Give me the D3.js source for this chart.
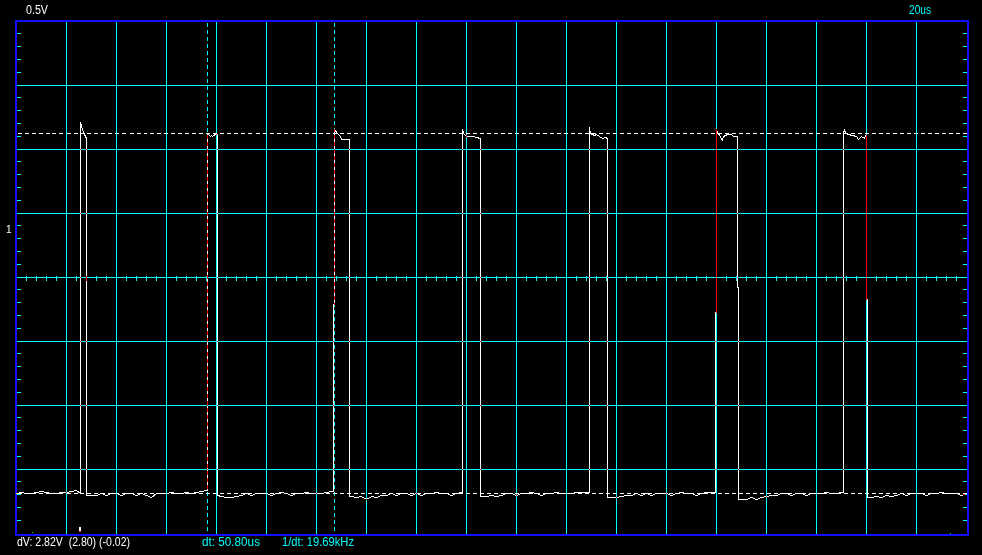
<!DOCTYPE html>
<html>
<head>
<meta charset="utf-8">
<script src="https://cdn.jsdelivr.net/npm/d3@7"></script>
<style>
  html, body { margin: 0; padding: 0; background: #000; }
  svg { display: block; }
  text { font-family: "Liberation Sans", Arial, sans-serif; white-space: pre; }
</style>
</head>
<body>
<script>
// ---------------- DATA ----------------
// time base: 20 us / div, vertical: 0.5 V / div
const timeDomain = [0, 380];          // us across the screen (19 divisions)
const voltDomain = [-0.325, 3.675];   // V across the screen (8 divisions)
const timeGrid = [20, 40, 60, 80, 100, 120, 140, 160, 180, 200, 220, 240, 260, 280, 300, 320, 340, 360];
const voltGrid = [0.175, 0.675, 1.175, 1.675, 2.175, 2.675, 3.175];
const centerVolt = 1.675;

// baseline samples every 2 us (V)
const baseStep = 2;
const baseline = [
  -0.02,-0.01,-0.02,-0.02,-0.01, 0.00,-0.01,-0.02,-0.02,-0.01,
  -0.01, 0.00, 0.01,-0.02,-0.02,-0.03,-0.03,-0.02,-0.03,-0.02,
  -0.02,-0.03,-0.02,-0.02,-0.03,-0.02,-0.03,-0.05,-0.02,-0.02,
  -0.02,-0.01,-0.02,-0.02,-0.01,-0.02,-0.01, 0.00, 0.01, 0.01,
  -0.03,-0.04,-0.05,-0.05,-0.04,-0.03,-0.02,-0.03,-0.02,-0.02,
  -0.02,-0.03,-0.02,-0.01,-0.02,-0.03,-0.02,-0.02,-0.01,-0.02,
  -0.02,-0.02,-0.01, 0.00, 0.00,-0.04,-0.04,-0.04,-0.05,-0.04,
  -0.06,-0.04,-0.05,-0.03,-0.03,-0.02,-0.03,-0.02,-0.02,-0.03,
  -0.02,-0.03,-0.02,-0.02,-0.01,-0.02,-0.02,-0.03,-0.02,-0.01,
  -0.01,-0.01,-0.01,-0.04,-0.04,-0.03,-0.04,-0.03,-0.02,-0.02,
  -0.03,-0.02,-0.02,-0.01,-0.02,-0.03,-0.02,-0.02,-0.01,-0.02,
  -0.02,-0.02,-0.01,-0.01,-0.01,-0.05,-0.05,-0.05,-0.05,-0.05,
  -0.05,-0.04,-0.03,-0.03,-0.02,-0.03,-0.02,-0.03,-0.02,-0.02,
  -0.02,-0.03,-0.02,-0.01,-0.02,-0.02,-0.03,-0.02,-0.01,-0.01,
  -0.06,-0.06,-0.06,-0.06,-0.06,-0.06,-0.06,-0.05,-0.06,-0.05,
  -0.04,-0.03,-0.03,-0.02,-0.02,-0.03,-0.02,-0.02,-0.03,-0.02,
  -0.02,-0.02,-0.01,-0.02,-0.02,-0.01,-0.05,-0.05,-0.05,-0.05,
  -0.05,-0.05,-0.04,-0.05,-0.03,-0.04,-0.03,-0.02,-0.03,-0.02,
  -0.02,-0.02,-0.03,-0.02,-0.02,-0.01,-0.02,-0.02,-0.02,-0.03,
  -0.02
];

// pulse vertices [t (us), v (V)]
const pulse1 = [[25.6,-0.02],[25.6,2.88],[26.0,2.85],[26.4,2.83],[27.2,2.79],[27.6,2.77],[28.0,2.76],[28.0,-0.03]];
const pulse2 = [[76.4,0.01],[76.4,2.80],[77.2,2.78],[77.6,2.77],[78.0,2.78],[78.4,2.77],[78.8,2.78],[79.6,2.79],[80.4,2.79],[80.4,-0.03]];
const pulse3 = [[126.8,0.00],[126.8,1.46],[127.2,1.46],[127.2,2.83],[128.4,2.80],[128.8,2.785],[129.6,2.77],[130.0,2.75],[133.2,2.75],[133.2,-0.04]];
const pulse4 = [[178.4,-0.01],[178.4,2.83],[178.8,2.80],[179.6,2.78],[180.4,2.77],[181.6,2.775],[182.8,2.77],[184.0,2.765],[185.6,2.76],[185.6,-0.04]];
const pulse5 = [[229.2,-0.01],[229.2,2.84],[229.6,2.80],[230.4,2.79],[231.2,2.78],[232.0,2.785],[233.2,2.77],[234.4,2.76],[235.6,2.765],[236.4,2.76],[236.4,-0.05]];
const pulse6 = [[279.6,-0.01],[279.6,1.40],[280.0,1.40],[280.0,2.825],[280.4,2.80],[281.2,2.785],[282.0,2.75],[282.4,2.74],[282.8,2.77],[283.6,2.78],[284.4,2.79],[285.2,2.785],[286.0,2.785],[286.8,2.77],[288.4,2.77],[288.4,1.59],[288.8,1.59],[288.8,-0.06]];
const pulse7 = [[330.8,-0.01],[330.8,2.80],[331.2,2.83],[331.6,2.80],[332.8,2.785],[334.4,2.777],[336.0,2.77],[336.8,2.75],[338.0,2.77],[339.2,2.76],[339.6,2.78],[340.0,2.78],[340.0,1.50],[340.4,1.50],[340.4,-0.05]];
const pulses = [pulse1, pulse2, pulse3, pulse4, pulse5, pulse6, pulse7];

// cursors
const timeCursors = [76.4, 127.2];    // dt = 50.80 us
const voltCursors = [2.80, -0.02];    // dV = 2.82 V
const triggerTime = 25.6;

// labels
const voltLabel = "0.5V";
const timeLabel = "20us";
const channelLabel = "1";
const dvLabel = "dV: 2.82V  (2.80) (-0.02)";
const dtLabel = "dt: 50.80us";
const freqLabel = "1/dt: 19.69kHz";

// ---------------- DRAW ----------------
const W = 982, H = 555;
const CYAN = "#00ffff", BLUE = "#1010ff";
const x = d3.scaleLinear().domain(timeDomain).range([16, 966]);
const y = d3.scaleLinear().domain(voltDomain).range([533, 21]);
const px = t => Math.floor(x(t) + 1e-6) + 0.5;
const py = v => Math.floor(y(v) + 1e-6) + 0.5;

const svg = d3.select("body").append("svg").attr("width", W).attr("height", H);
svg.append("rect").attr("width", W).attr("height", H).attr("fill", "#000");

const grid = svg.append("g").attr("shape-rendering", "crispEdges").attr("stroke", CYAN).attr("stroke-width", 1);
const yTop = py(voltDomain[1]), yBot = py(voltDomain[0]);
const xL = px(timeDomain[0]), xR = px(timeDomain[1]);

grid.selectAll("line.v").data(timeGrid).join("line").attr("class", "v")
  .attr("x1", d => px(d)).attr("x2", d => px(d)).attr("y1", yTop).attr("y2", yBot);
grid.selectAll("line.h").data(voltGrid).join("line").attr("class", "h")
  .attr("y1", d => py(d)).attr("y2", d => py(d)).attr("x1", xL).attr("x2", xR);

// minor ticks on the center line (every 1/5 div)
const minorT = d3.range(4, 380, 4);
grid.selectAll("line.mt").data(minorT).join("line").attr("class", "mt")
  .attr("x1", d => px(d)).attr("x2", d => px(d))
  .attr("y1", py(centerVolt) - 2).attr("y2", py(centerVolt) + 3);
// minor ticks on left / right borders
const minorV = d3.range(1, 40).map(i => voltDomain[0] + i * 0.1).filter(v => Math.abs(((v - voltDomain[0]) / 0.5) % 1) > 0.01 && Math.abs(((v - voltDomain[0]) / 0.5) % 1) < 0.99);
grid.selectAll("line.ml").data(minorV).join("line").attr("class", "ml")
  .attr("y1", d => py(d)).attr("y2", d => py(d)).attr("x1", xL).attr("x2", xL + 4);
grid.selectAll("line.mr").data(minorV).join("line").attr("class", "mr")
  .attr("y1", d => py(d)).attr("y2", d => py(d)).attr("x1", xR - 4).attr("x2", xR);

// time cursors (cyan dashed)
grid.selectAll("line.tc").data(timeCursors).join("line").attr("class", "tc")
  .attr("x1", d => px(d)).attr("x2", d => px(d)).attr("y1", yTop + 1).attr("y2", yBot)
  .attr("stroke-dasharray", "4,3");

// border
svg.append("rect").attr("x", xL - 1).attr("y", yTop - 1).attr("width", xR - xL + 2).attr("height", yBot - yTop + 2)
  .attr("fill", "none").attr("stroke", BLUE).attr("stroke-width", 2).attr("shape-rendering", "crispEdges");

// trace
const pts = [];
let bi = 0;
pulses.forEach(p => {
  const t0 = p[0][0], t1 = p[p.length - 1][0];
  while (bi < baseline.length && bi * baseStep < t0) { pts.push([bi * baseStep, baseline[bi]]); bi++; }
  p.forEach(q => pts.push(q));
  while (bi < baseline.length && bi * baseStep <= t1) bi++;
});
while (bi < baseline.length) { pts.push([bi * baseStep, baseline[bi]]); bi++; }

const line = d3.line().x(d => px(d[0])).y(d => py(d[1]));
svg.append("path").datum(pts).attr("d", line)
  .attr("fill", "none").attr("stroke", "#fff").attr("stroke-width", 1)
  .attr("shape-rendering", "crispEdges").style("mix-blend-mode", "difference");

// voltage cursors (white dashed)
svg.selectAll("line.vc").data(voltCursors).join("line").attr("class", "vc")
  .attr("y1", d => py(d)).attr("y2", d => py(d)).attr("x1", xL + 1).attr("x2", xR)
  .attr("stroke", "#fff").attr("stroke-dasharray", "4,3").attr("shape-rendering", "crispEdges");

// trigger marker & small markers
svg.append("rect").attr("x", Math.floor(x(triggerTime)) - 1).attr("y", 527).attr("width", 2).attr("height", 4).attr("fill", "#fff");
svg.append("rect").attr("x", Math.floor(x(triggerTime)) - 1).attr("y", 531).attr("width", 2).attr("height", 1).attr("fill", "#ff0000");
svg.append("rect").attr("x", 32).attr("y", 532).attr("width", 1).attr("height", 1).attr("fill", "#00ff00");
svg.append("rect").attr("x", 950).attr("y", 533).attr("width", 1).attr("height", 1).attr("fill", "#00ff00");

// texts
function label(txt, xx, yy, color, size, len) {
  const t = svg.append("text").attr("x", xx).attr("y", yy).attr("fill", color)
    .attr("xml:space", "preserve")
    .style("font-size", size + "px").text(txt);
  if (len) t.attr("textLength", len).attr("lengthAdjust", "spacingAndGlyphs");
  return t;
}
label(voltLabel, 26, 14, "#fff", 12, 22);
label(timeLabel, 909, 14, CYAN, 12, 22);
label(channelLabel, 6, 233, "#fff", 10);
label(dvLabel, 17, 546, "#fff", 12, 113);
label(dtLabel, 202, 546, CYAN, 12, 58);
label(freqLabel, 282, 546, CYAN, 12, 72);
</script>
</body>
</html>
